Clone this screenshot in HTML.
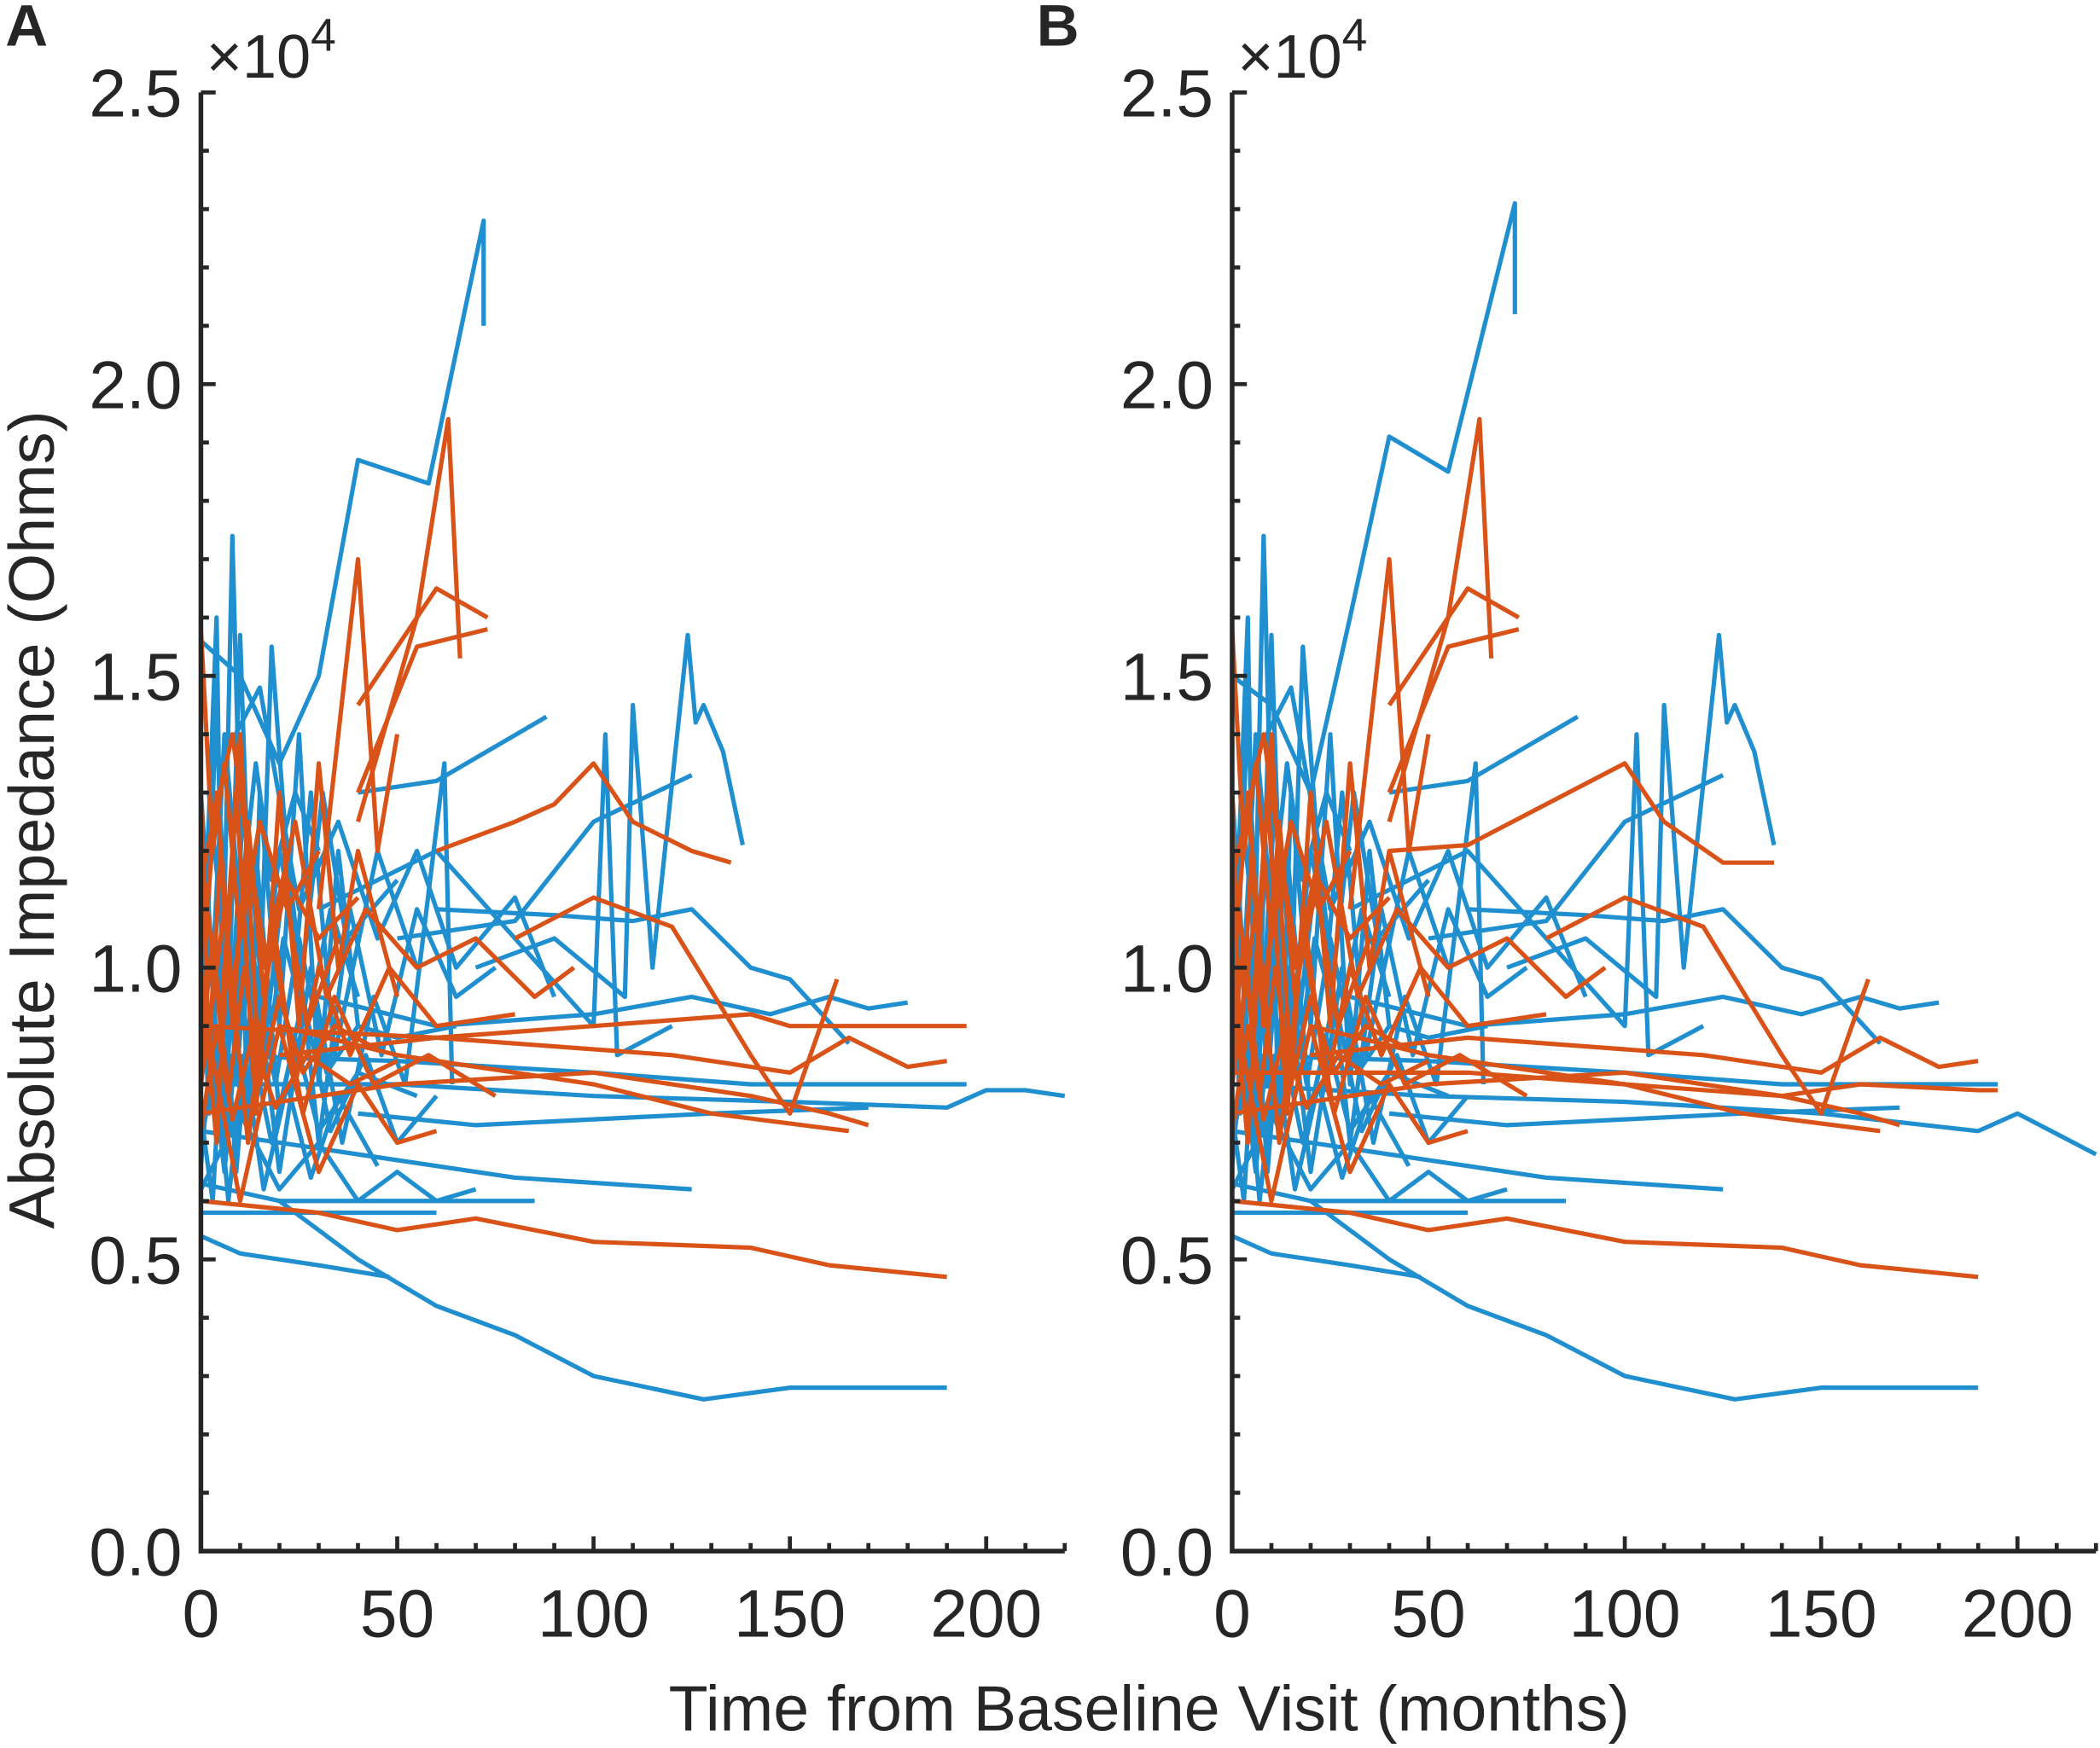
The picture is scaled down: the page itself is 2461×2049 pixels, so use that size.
<!DOCTYPE html>
<html><head><meta charset="utf-8"><style>
html,body{margin:0;padding:0;background:#fff;}
svg{display:block;}
text{font-family:"Liberation Sans",Arial,sans-serif;fill:#262626;}
</style></head>
<body>
<svg id="fig" width="2461" height="2049" viewBox="0 0 1568 1305" preserveAspectRatio="none" xmlns="http://www.w3.org/2000/svg">
<g id="panelA"></g>
<g id="panelB"></g>
<text x="858" y="1292" font-size="48" text-anchor="middle">Time from Baseline Visit (months)</text>
</svg>
<script>
// ---- data (impedance in units of 1e4 Ohms, time in months) ----
const xTicks = [0, 50, 100, 150, 200];
const yTicks = [0.0, 0.5, 1.0, 1.5, 2.0, 2.5];
const yTickLabels = ["0.0", "0.5", "1.0", "1.5", "2.0", "2.5"];
const blueA = [
 [[0,0.54],[10,0.51],[30,0.49],[48,0.47]],
 [[0,0.63],[20,0.6],[40,0.5],[60,0.42],[80,0.37],[100,0.3],[128,0.26],[150,0.28],[180,0.28],[190,0.28]],
 [[0,0.72],[40,0.68],[80,0.64],[125,0.62]],
 [[0,0.8],[50,0.8],[100,0.78],[150,0.77],[190,0.76],[200,0.79],[210,0.79],[220,0.78]],
 [[0,0.85],[50,0.84],[100,0.82],[140,0.8],[185,0.8],[195,0.8]],
 [[60,1.1],[90,1.09],[110,1.08],[125,1.1],[140,1.0],[150,0.98],[165,0.87]],
 [[0,1.56],[10,1.5],[20,1.35],[30,1.5],[40,1.87],[58,1.83],[72,2.28],[72,2.1]],
 [[30,1.1],[60,1.2],[80,1.05],[100,0.9],[103,1.4],[106,0.85],[120,0.9]],
 [[70,1.0],[90,1.05],[108,0.95],[110,1.45],[115,1.0],[124,1.57],[126,1.42],[128,1.45],[133,1.37],[138,1.21]],
 [[40,1.3],[60,1.32],[88,1.43]],
 [[20,0.6],[50,0.6],[85,0.6]],
 [[0,0.58],[20,0.58],[60,0.58]],
 [[30,0.95],[60,0.9],[100,0.92],[125,0.95],[145,0.92],[160,0.95],[170,0.93],[180,0.94]],
 [[50,1.05],[80,1.08],[100,1.25],[125,1.33]],
 [[40,0.75],[70,0.73],[100,0.74],[130,0.75],[170,0.76]],
 [[0,1.2],[5,0.8],[8,1.74],[12,0.7],[15,1.3],[20,0.9],[25,1.4],[30,0.8],[35,1.2],[40,0.9]],
 [[0,0.9],[4,1.6],[6,0.7],[10,1.57],[14,0.75],[18,1.55],[24,1.0],[28,1.3],[34,0.85],[45,1.2],[55,1.0]],
 [[0,0.7],[8,1.0],[15,0.8],[22,1.2],[30,0.7],[38,1.1],[46,0.85],[55,1.1],[65,0.95],[75,1.0]],
 [[0,1.0],[6,0.65],[12,1.1],[20,0.65],[28,1.0],[36,0.7],[44,0.95],[52,0.8],[62,1.35],[64,0.8]],
 [[5,1.35],[15,1.48],[25,1.1],[35,1.25],[45,1.05],[55,1.2],[65,1.0],[80,1.12],[90,0.95]],
 [[0,0.62],[10,0.75],[20,0.62],[30,0.7],[40,0.6],[50,0.65],[60,0.6],[70,0.62]],
 [[2,1.3],[8,0.9],[14,1.2],[20,0.75],[26,0.95],[33,0.72],[42,0.85],[50,0.7],[60,0.78]],
 [[0,0.66],[3,0.9],[7,0.6],[11,0.85],[16,0.62],[22,0.8],[28,0.64],[35,0.78],[45,0.66]],
 [[0,1.1],[2,0.75],[5,1.25],[9,0.8],[13,1.15],[17,0.85],[21,1.05],[27,0.9],[33,1.1],[40,0.95]],
 [[1,0.95],[4,1.45],[7,0.85],[11,1.3],[16,0.95],[20,1.2],[26,1.0],[31,1.3],[37,1.05],[50,1.15]],
 [[0,0.75],[3,0.6],[6,0.95],[9,0.65],[12,0.9],[18,0.7],[24,0.88],[30,0.72],[40,0.82],[55,0.78]],
 [[2,0.85],[6,1.05],[10,0.78],[14,1.0],[19,0.8],[25,1.05],[32,0.82],[40,0.9],[50,0.88],[65,0.9]],
 [[0,1.3],[3,1.0],[6,1.4],[10,1.1],[14,1.35],[18,1.15],[24,1.3],[30,1.2]]
];
const orangeA = [
 [[0,0.6],[30,0.58],[50,0.55],[70,0.57],[100,0.53],[140,0.52],[160,0.49],[190,0.47]],
 [[0,0.75],[50,0.8],[100,0.82],[140,0.78],[160,0.75],[170,0.73]],
 [[0,0.9],[60,0.88],[100,0.9],[140,0.92],[150,0.9],[190,0.9],[195,0.9]],
 [[20,0.85],[60,0.88],[120,0.85],[150,0.82],[165,0.88],[180,0.83],[190,0.84]],
 [[40,1.25],[55,1.6],[63,1.94],[66,1.53]],
 [[40,1.45],[60,1.65],[73,1.6]],
 [[40,1.3],[55,1.55],[73,1.58]],
 [[30,1.1],[40,1.7],[45,1.2],[50,1.4]],
 [[60,1.2],[80,1.25],[90,1.28],[100,1.35],[110,1.25],[125,1.2],[135,1.18]],
 [[80,1.05],[100,1.12],[120,1.07],[140,0.85],[150,0.75],[162,0.98]],
 [[20,0.9],[50,0.85],[100,0.8],[130,0.75],[165,0.72]],
 [[0,1.2],[5,0.9],[10,1.4],[15,0.8],[20,1.3],[25,0.9],[30,1.35],[35,1.0],[40,1.2],[50,0.95]],
 [[0,1.0],[4,0.7],[9,1.3],[14,0.75],[18,1.1],[24,0.8],[30,1.0],[38,0.85],[48,1.0],[60,0.9],[80,0.92]],
 [[0,0.8],[6,1.1],[12,0.7],[18,1.05],[26,0.75],[34,0.95],[44,0.8],[58,0.85],[75,0.78]],
 [[0,1.15],[8,1.4],[16,1.0],[24,1.25],[32,0.95],[42,1.1],[55,1.0],[70,1.05],[85,0.95],[95,1.0]],
 [[0,0.95],[10,0.6],[20,0.9],[30,0.65],[40,0.8],[50,0.7],[60,0.72]],
 [[0,1.3],[2,0.85],[5,1.2],[8,0.9],[12,1.25],[16,0.95],[21,1.15],[27,0.9],[35,1.05]],
 [[0,0.85],[3,1.05],[7,0.78],[11,1.0],[15,0.8],[20,0.95],[26,0.82],[34,0.9],[45,0.86]],
 [[1,1.05],[4,1.3],[8,0.95],[12,1.2],[17,1.0],[22,1.15],[30,1.05],[40,1.12]],
 [[0,0.72],[4,0.9],[8,0.74],[13,0.88],[19,0.76],[27,0.85],[38,0.8],[50,0.84]],
 [[0,1.58],[3,1.2],[6,1.35],[10,1.05],[15,1.25],[22,1.1],[30,1.2]]
];
const blueB = blueA.map(s => s.map(p => [p[0], p[1]]));
blueB[6] = [[0,1.5],[10,1.45],[20,1.3],[30,1.6],[40,1.91],[55,1.85],[72,2.31],[72,2.12]];
blueB[3] = [[0,0.8],[50,0.78],[100,0.77],[150,0.75],[190,0.72],[200,0.75],[220,0.68]];
const orangeB = orangeA.map(s => s.map(p => [p[0], p[1]]));
orangeB[8] = [[40,1.2],[60,1.21],[80,1.28],[100,1.35],[110,1.25],[125,1.18],[138,1.18]];
orangeB[2] = [[0,0.82],[60,0.82],[100,0.8],[140,0.78],[160,0.8],[190,0.79],[195,0.79]];

const NS = "http://www.w3.org/2000/svg";
function mk(tag, attrs, parent){ const e=document.createElementNS(NS,tag); for(const k in attrs) e.setAttribute(k,attrs[k]); parent.appendChild(e); return e; }

function drawPanel(g, x0, letter, blue, orange){
  const xMax = 220, yMax = 2.5, W = 645, y0 = 1158, H = 1089;
  const sx = v => x0 + v / xMax * W;
  const sy = v => y0 - v / yMax * H;
  const drawSeries = (arr, color, nm) => arr.forEach(s => {
    const p = mk("polyline", {points: s.map(q => sx(q[0]).toFixed(1)+","+sy(q[1]).toFixed(1)).join(" "), fill:"none", stroke:color, "stroke-width":"3.3", "stroke-linejoin":"round"}, g);
    
    
  });
  drawSeries(blue, "#1f8fcf", "blue-series-line");
  drawSeries(orange, "#d95319", "orange-series-line");
  const ax = mk("path", {d:`M${x0},${sy(yMax)} V${y0} H${sx(xMax)}`, fill:"none", stroke:"#262626", "stroke-width":"3.5"}, g);
  
  
  for(let v=0; v<=25; v++){
    const major = v % 5 === 0;
    const t = mk("line", {x1:x0, x2:x0+(major?11:6), y1:sy(v/10), y2:sy(v/10), stroke:"#262626", "stroke-width":"3"}, g);
    
    
  }
  for(let v=0; v<=220; v+=10){
    const major = v % 50 === 0;
    const t = mk("line", {x1:sx(v), x2:sx(v), y1:y0, y2:y0-(major?11:6), stroke:"#262626", "stroke-width":"3"}, g);
    
    
  }
  yTicks.forEach((v,i) => {
    const t = mk("text", {x:x0-14, y:sy(v)+18, "font-size":"50", "text-anchor":"end"}, g);
    t.textContent = yTickLabels[i];
    
    
  });
  xTicks.forEach(v => {
    const t = mk("text", {x:sx(v), y:1222, "font-size":"50", "text-anchor":"middle"}, g);
    t.textContent = String(v);
    
    
  });
  const ex = mk("text", {x:x0+4, y:58, "font-size":"46"}, g);
  ex.innerHTML = '×10<tspan font-size="34" dy="-20">4</tspan>';
  
  
  const L = mk("text", {x:x0-146, y:34, "font-size":"44", "font-weight":"bold", fill:"#000"}, g);
  L.textContent = letter;
  
  
}
drawPanel(document.getElementById("panelA"), 150, "A", blueA, orangeA);
drawPanel(document.getElementById("panelB"), 920, "B", blueB, orangeB);
const yl = mk("text", {x:0, y:0, "font-size":"48", "text-anchor":"middle", transform:"translate(40,612) rotate(-90)"}, document.getElementById("fig"));
yl.textContent = "Absolute Impedance (Ohms)";


</script>
</body></html>
